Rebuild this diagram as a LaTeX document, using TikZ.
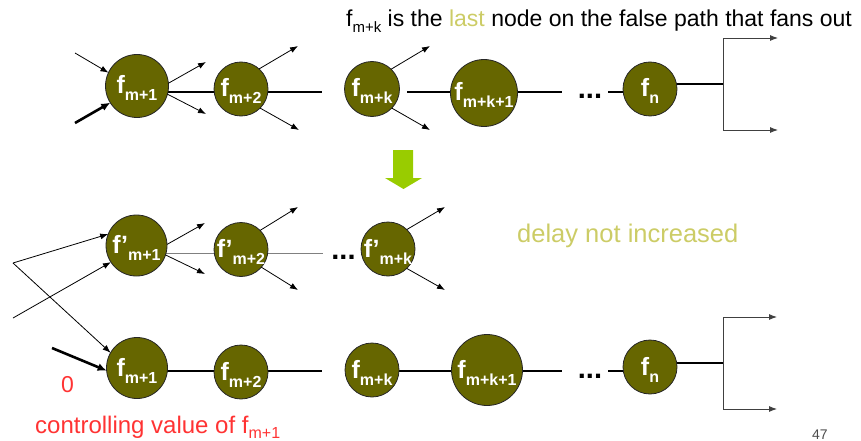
\documentclass[tikz,border=0pt]{standalone}
\usepackage{fontspec}
\setmainfont{Liberation Sans}
\usetikzlibrary{arrows.meta}
\pgfdeclarelayer{bg}
\pgfsetlayers{bg,main}
\definecolor{gatefill}{HTML}{666600}
\definecolor{hint}{HTML}{CCCC66}
\definecolor{note}{HTML}{FF3333}
\definecolor{flow}{HTML}{99CC00}
% gate label: big bold f (optionally primed) with a lowered index
\newcommand\fsub[2]{\makebox[0pt]{\raisebox{-8pt}{\fontsize{25}{25}\selectfont\bfseries f#1\raisebox{-7pt}{\fontsize{16}{16}\selectfont #2}}}}
\tikzset{
  gate/.style={circle, draw=black!85, line width=0.8pt, fill=gatefill, text=white,
    inner sep=0pt, outer sep=0pt, minimum size=#1, text height=0pt, text depth=0pt},
  wire/.style={line width=2.6pt},
  thinwire/.style={line width=0.8pt, draw=gray},
  fan/.style={line width=0.8pt, -{Latex[length=8pt,width=6pt]}},
  boldfan/.style={line width=2.6pt, -{Latex[length=9pt,width=8pt]}},
  branch/.style={line width=0.9pt, draw=black!75, -{Latex[length=8pt,width=6pt]}},
  dots/.style={anchor=base, font=\fontsize{29}{29}\selectfont\bfseries, inner sep=0pt},
  txt/.style={anchor=base west, inner sep=0pt, font=\fontsize{#1}{#1}\selectfont},
}
\begin{document}
\begin{tikzpicture}[x=1pt, y=-1pt]
\useasboundingbox (0,0) rectangle (861,441);

% ---------- original path ----------
\node[gate=63pt] (A1) at (137,86) {\fsub{}{m+1}};
\node[gate=54pt] (A2) at (241,89) {\fsub{}{m+2}};
\node[gate=55pt] (A3) at (372,89) {\fsub{}{m+k}};
\node[gate=67pt] (A4) at (484,93) {\fsub{}{m+k+1}};
\node[gate=54pt] (A5) at (650,89) {\fsub{}{n}};
\node[dots] (D1) at (590,99) {...};

\coordinate (rowT) at (0,92);
\coordinate (A2end) at (322,92);
\coordinate (A4start) at (407,92);
\coordinate (A4end) at (562,92);
\coordinate (A5start) at (608,92);
\coordinate (A5out) at (723,84);
\coordinate (T1) at (778,38);
\coordinate (T2) at (778,130);
\begin{pgfonlayer}{bg}
  \draw[wire] (A1 |- rowT) -- (A2 |- rowT);
  \draw[wire] (A2 |- rowT) -- (A2end);
  \draw[wire] (A4start) -- (A4 |- rowT);
  \draw[wire] (A4 |- rowT) -- (A4end);
  \draw[wire] (A5start) -- (A5 |- rowT);
  \draw[wire] (A5 |- A5out) -- (A5out);
\end{pgfonlayer}
\draw[branch] (A5out) |- (T1);
\draw[branch] (A5out) |- (T2);

\coordinate (inA) at (75,53);
\coordinate (inB) at (75,123);
\draw[fan] (inA) -- (A1.155);
\draw[boldfan] (inB) -- (A1.212);
\coordinate (o11) at (206,62);
\coordinate (o12) at (206,114);
\coordinate (o21) at (298,46);
\coordinate (o22) at (299,130);
\coordinate (o31) at (430,46);
\coordinate (o32) at (430,130);
\draw[fan] (A1.5) -- (o11);
\draw[fan] (A1.-15) -- (o12);
\draw[fan] (A2.48) -- (o21);
\draw[fan] (A2.-45) -- (o22);
\draw[fan] (A3.46) -- (o31);
\draw[fan] (A3.-44) -- (o32);

% ---------- transformation arrow ----------
\fill[flow] (393,150) -- (413,150) -- (413,178) -- (422,178) -- (403.5,189)
  -- (385,178) -- (393,178) -- cycle;

% ---------- duplicated gates ----------
\node[gate=61pt] (B1) at (136.5,245.5) {\fsub{’}{m+1}};
\node[gate=54pt] (B2) at (241,249.5) {\fsub{’}{m+2}};
\node[gate=54pt] (B3) at (388,249) {\fsub{’}{m+k}};
\node[dots] (D2) at (343.5,259) {...};
\coordinate (rowM) at (0,253);
\coordinate (B2end) at (323,253);
\begin{pgfonlayer}{bg}
  \draw[thinwire] (B1 |- rowM) -- (B2 |- rowM);
  \draw[thinwire] (B2 |- rowM) -- (B2end);
\end{pgfonlayer}
\coordinate (ob11) at (205,223);
\coordinate (ob12) at (205,274);
\coordinate (ob21) at (298,207);
\coordinate (ob22) at (298,290);
\coordinate (ob31) at (445,207);
\coordinate (ob32) at (445,290);
\draw[fan] (B1.2) -- (ob11);
\draw[fan] (B1.-18) -- (ob12);
\draw[fan] (B2.45) -- (ob21);
\draw[fan] (B2.-41) -- (ob22);
\draw[fan] (B3.46) -- (ob31);
\draw[fan] (B3.-46) -- (ob32);

% ---------- modified path ----------
\node[gate=61pt] (C1) at (137,368) {\fsub{}{m+1}};
\node[gate=54pt] (C2) at (241,372) {\fsub{}{m+2}};
\node[gate=54pt] (C3) at (372,370) {\fsub{}{m+k}};
\node[gate=71pt] (C4) at (487,370) {\fsub{}{m+k+1}};
\node[gate=54pt] (C5) at (650,367) {\fsub{}{n}};
\node[dots] (D3) at (590,378) {...};

\coordinate (rowB) at (0,371);
\coordinate (C2end) at (322,371);
\coordinate (C4end) at (562,371);
\coordinate (C5start) at (608,371);
\coordinate (C5out) at (723,363);
\coordinate (U1) at (777,317);
\coordinate (U2) at (777,409);
\begin{pgfonlayer}{bg}
  \draw[wire] (C1 |- rowB) -- (C2 |- rowB);
  \draw[wire] (C2 |- rowB) -- (C2end);
  \draw[wire] (C3 |- rowB) -- (C4 |- rowB);
  \draw[wire] (C4 |- rowB) -- (C4end);
  \draw[wire] (C5start) -- (C5 |- rowB);
  \draw[wire] (C5 |- C5out) -- (C5out);
\end{pgfonlayer}
\draw[branch] (C5out) |- (U1);
\draw[branch] (C5out) |- (U2);

% shared inputs of the duplicated and the original first gate
\coordinate (P) at (13,263);
\coordinate (Q) at (13,318);
\draw[fan] (P) -- (B1.158);
\draw[fan] (P) -- (C1.150);
\draw[fan] (Q) -- (B1.213);
\coordinate (inC) at (52,348);
\draw[boldfan] (inC) -- (C1.185);

% ---------- texts ----------
\node[txt=23] (title) at (346,27) {f\raisebox{-6pt}{\fontsize{15}{15}\selectfont m+k} is the \textcolor{hint}{last} node on the false path that fans out};
\node[txt=25.5, text=hint] (delay) at (517,242) {delay not increased};
\node[txt=23, text=note] (zero) at (61,392) {0};
\node[txt=24, text=note] (ctrl) at (35,433) {controlling value of f\raisebox{-5pt}{\fontsize{16}{16}\selectfont m+1}};
\node[txt=14, text=black!70] (pg) at (812,439) {47};
\end{tikzpicture}
\end{document}
